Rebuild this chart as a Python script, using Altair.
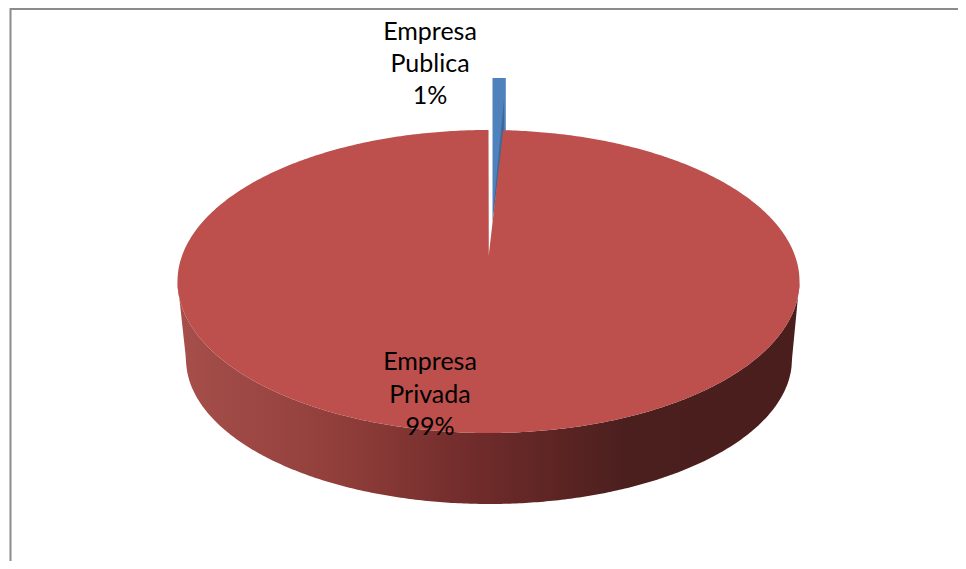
import numpy as np
import pandas as pd
import altair as alt

labels = ["Empresa Publica", "Empresa Privada"]
shares = [1, 99]

# picture units (px)
cx, cy, rx, ry = 488.5, 281.5, 311.0, 151.5
bx, by, brx, bry = 489.0, 359.0, 303.0, 145.0

def top_upper(x):
    return cy - ry * np.sqrt(np.clip(1 - ((x - cx) / rx) ** 2, 0, 1))
def top_lower(x):
    return cy + ry * np.sqrt(np.clip(1 - ((x - cx) / rx) ** 2, 0, 1))
def base_lower(x):
    return by + bry * np.sqrt(np.clip(1 - ((x - bx) / brx) ** 2, 0, 1))

tip = (488.8, 255.0)
notch_right = 488.5 + rx * np.sin(2 * np.pi * shares[0] / sum(shares)) * 0.75
s = 1 - np.cos(np.linspace(0, np.pi / 2, 160))
left_xs = cx - rx * (1 - s)
right_xs = cx + rx * (1 - s[::-1])

def notch_line(x):
    return tip[1] + (top_upper(notch_right) - tip[1]) * (x - tip[0]) / (notch_right - tip[0])

# red top face
nx = np.linspace(tip[0], notch_right, 6)
ny = notch_line(nx)
rr = right_xs[right_xs > notch_right]
top_df = pd.DataFrame({
    "x": np.r_[left_xs, nx, rr],
    "y": np.r_[top_upper(left_xs), ny, top_upper(rr)],
    "y2": np.r_[top_lower(left_xs), top_lower(nx), top_lower(rr)],
})

# side wall
wx = np.r_[left_xs, right_xs[1:]]
def wall_bottom(x):
    out = base_lower(x)
    le, re = bx - brx, bx + brx
    out = np.where(x < le, cy + (by - cy) * (x - (cx - rx)) / (le - (cx - rx)), out)
    out = np.where(x > re, cy + (by - cy) * ((cx + rx) - x) / ((cx + rx) - re), out)
    return out
wall_df = pd.DataFrame({"x": wx, "y": top_lower(wx), "y2": wall_bottom(wx)})

# exploded blue slice
blue_x = [492.5, 505.8]
blue_top = 78.0
bxs = np.linspace(blue_x[0], blue_x[1], 14)
blue_df = pd.DataFrame({"x": bxs, "y": np.full(14, blue_top), "y2": np.maximum(notch_line(bxs), 135.0)})
dxs = np.array([493.5, 504.0])
dark_df = pd.DataFrame({"x": dxs, "y": [208.0, 100.0], "y2": np.maximum(notch_line(dxs), 135.0)})

text_df = pd.DataFrame({
    "x": [430, 430, 430, 430, 430, 430],
    "y": [32, 64, 96, 362, 395, 427],
    "t": ["Empresa", "Publica", "1%", "Empresa", "Privada", "99%"],
})
frame_df = pd.DataFrame({"x": [10.5, 10.5, 958], "y": [561, 9, 9]})

X = alt.Scale(domain=[8, 958])
Y = alt.Scale(domain=[561, 8])
ex = alt.X("x:Q", scale=X, axis=None)
ey = alt.Y("y:Q", scale=Y, axis=None)
ey2 = alt.Y2("y2:Q")

frame = alt.Chart(frame_df).mark_line(color="#8c8c8c", strokeWidth=2).encode(ex, ey, order=alt.Order("y:Q", sort="descending"))
wall = alt.Chart(wall_df).mark_area(
    color=alt.Gradient(gradient="linear", x1=0, x2=1, y1=0, y2=0, stops=[
        alt.GradientStop(offset=0, color="#a64f4b"),
        alt.GradientStop(offset=0.25, color="#923f3b"),
        alt.GradientStop(offset=0.47, color="#712c2b"),
        alt.GradientStop(offset=0.72, color="#4b1f1e"),
        alt.GradientStop(offset=1, color="#4a1e1d"),
    ]),
).encode(ex, ey, ey2)
top = alt.Chart(top_df).mark_area(color="#bd4f4c").encode(ex, ey, ey2)
blue = alt.Chart(blue_df).mark_area(color="#4f81bd").encode(ex, ey, ey2)
dark = alt.Chart(dark_df).mark_area(color="#3f6797").encode(ex, ey, ey2)
text = alt.Chart(text_df).mark_text(font="Lato", fontSize=25, color="#000000", align="center", baseline="middle").encode(ex, ey, text="t:N")

chart = alt.layer(frame, wall, blue, dark, top, text).properties(
    width=950, height=553, padding=0, autosize=alt.AutoSizeParams(type="none"),
).configure_view(stroke=None)
chart.save("out.html", embed_options={"renderer": "svg", "actions": False})
